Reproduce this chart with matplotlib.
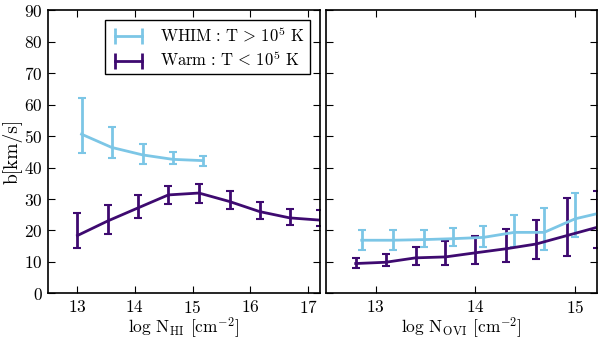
import numpy as np
import matplotlib
matplotlib.use('Agg')
import matplotlib.pyplot as plt
from matplotlib.lines import Line2D

plt.rcParams['font.family'] = 'serif'
plt.rcParams['font.serif'] = ['cmr10', 'DejaVu Serif']
plt.rcParams['mathtext.fontset'] = 'cm'
plt.rcParams['axes.formatter.use_mathtext'] = True
plt.rcParams['axes.unicode_minus'] = False

c_whim = '#7cc6e6'
c_warm = '#3e0a70'

# left panel: log N_HI
hi_whim_x = [13.08, 13.6, 14.14, 14.66, 15.18]
hi_whim_y = [50.6, 46.4, 44.0, 42.6, 42.2]
hi_whim_lo = [44.5, 43.0, 41.0, 41.0, 40.6]
hi_whim_hi = [62.0, 53.0, 47.4, 45.0, 43.7]

hi_warm_x = [13.01, 13.53, 14.06, 14.58, 15.11, 15.64, 16.16, 16.68, 17.2]
hi_warm_y = [18.4, 23.0, 27.2, 31.3, 31.9, 29.2, 26.0, 24.0, 23.3]
hi_warm_lo = [14.5, 18.9, 24.0, 28.5, 28.6, 26.8, 23.8, 21.9, 21.3]
hi_warm_hi = [25.6, 28.2, 31.4, 34.1, 34.8, 32.7, 28.9, 26.8, 26.4]

# right panel: log N_OVI
ovi_whim_x = [12.86, 13.17, 13.48, 13.78, 14.08, 14.39, 14.69, 15.0, 15.31]
ovi_whim_y = [16.9, 16.9, 17.1, 17.4, 17.8, 19.4, 19.4, 23.7, 26.0]
ovi_whim_lo = [13.7, 13.7, 14.7, 15.0, 14.8, 14.8, 13.9, 18.0, 20.0]
ovi_whim_hi = [20.3, 20.3, 20.3, 20.8, 21.5, 24.9, 27.2, 31.9, 33.0]

ovi_warm_x = [12.8, 13.1, 13.4, 13.7, 14.0, 14.31, 14.61, 14.92, 15.22]
ovi_warm_y = [9.5, 9.9, 11.3, 11.6, 12.9, 14.2, 15.7, 18.4, 21.0]
ovi_warm_lo = [8.0, 8.7, 8.9, 8.9, 9.4, 9.9, 10.8, 11.8, 14.5]
ovi_warm_hi = [11.1, 12.4, 14.8, 16.6, 18.4, 20.6, 23.4, 30.3, 32.7]

labels = [r'$\rm WHIM\ \colon\ T\,>\,10^5\ K$',
          r'$\rm Warm\ \colon\ T\,<\,10^5\ K$']


def draw(ax, x, y, lo, hi, color):
    y = np.array(y)
    yerr = [y - np.array(lo), np.array(hi) - y]
    ax.errorbar(x, y, yerr=yerr, color=color, lw=2, elinewidth=2,
                capsize=2.8, capthick=1.5)


fig = plt.figure(figsize=(6, 3.4), dpi=100)
ax1 = fig.add_axes([0.08, 0.137, 0.453, 0.833])
ax2 = fig.add_axes([0.543, 0.137, 0.452, 0.833])

draw(ax1, hi_whim_x, hi_whim_y, hi_whim_lo, hi_whim_hi, c_whim)
draw(ax1, hi_warm_x, hi_warm_y, hi_warm_lo, hi_warm_hi, c_warm)
draw(ax2, ovi_whim_x, ovi_whim_y, ovi_whim_lo, ovi_whim_hi, c_whim)
draw(ax2, ovi_warm_x, ovi_warm_y, ovi_warm_lo, ovi_warm_hi, c_warm)

for ax in (ax1, ax2):
    ax.set_ylim(0, 90)
    ax.set_yticks(range(0, 91, 10))
    ax.tick_params(direction='in', top=True, right=True, labelsize=12.5,
                   length=5, width=0.8, pad=4)
    for s in ax.spines.values():
        s.set_linewidth(1.2)

ax1.set_xlim(12.5, 17.2)
ax1.set_xticks([13, 14, 15, 16, 17])
ax2.set_xlim(12.5, 15.22)
ax2.set_xticks([13, 14, 15])
ax2.set_yticklabels([])

ax1.set_ylabel('b[km/s]', fontsize=14, labelpad=1)
ax1.set_xlabel(r'log N$_{\rm HI}$ [cm$^{-2}$]', fontsize=12.5, labelpad=-1)
ax2.set_xlabel(r'log N$_{\rm OVI}$ [cm$^{-2}$]', fontsize=12.5, labelpad=-1)

handles = [Line2D([0, 1], [0, 0], color=c, lw=2, marker='|', markersize=12,
                  markeredgewidth=2) for c in (c_whim, c_warm)]
leg = ax1.legend(handles, labels, loc='upper right', fontsize=12,
                 fancybox=False, edgecolor='black', framealpha=1,
                 borderpad=0.3, handlelength=2.2, labelspacing=0.3,
                 borderaxespad=0.6, numpoints=2)
leg.get_frame().set_linewidth(1.0)

fig.savefig('out.png', dpi=100)
